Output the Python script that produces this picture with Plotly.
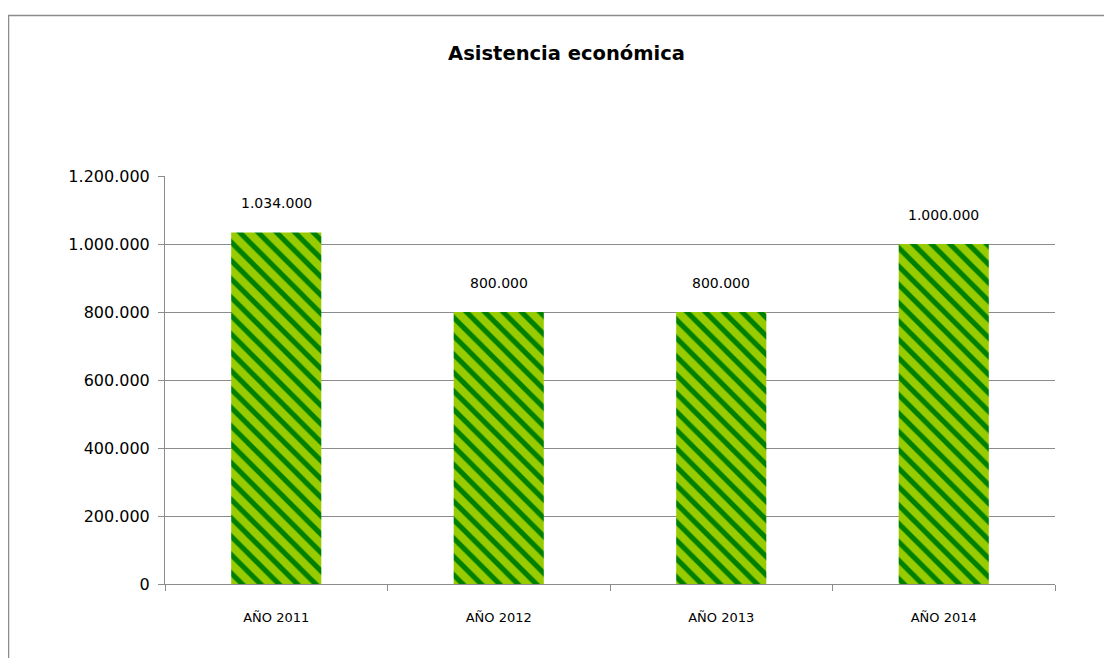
import plotly.graph_objects as go

categories = ["AÑO 2011", "AÑO 2012", "AÑO 2013", "AÑO 2014"]
values = [1034000, 800000, 800000, 1000000]
value_labels = ["1.034.000", "800.000", "800.000", "1.000.000"]
y_tickvals = [0, 200000, 400000, 600000, 800000, 1000000, 1200000]
y_ticktext = ["0", "200.000", "400.000", "600.000", "800.000", "1.000.000", "1.200.000"]

# figure sits inside the page's 8px body margin
W, H = 1096, 650
ml, mt = 157, 168
pr, pb = 1047, 576  # plot right / bottom in figure pixels
mr, mb = W - pr, H - pb
pw, ph = pr - ml, pb - mt

FONT = "DejaVu Sans, Verdana, sans-serif"

fig = go.Figure()
fig.add_trace(go.Bar(
    x=categories, y=values, width=0.405,
    marker=dict(
        color="#99CC00",
        line=dict(width=0),
        pattern=dict(shape="\\", fgcolor="#008000", bgcolor="#99CC00",
                     size=13, solidity=0.4, fillmode="replace"),
    ),
    hoverinfo="skip",
))

for c, v, t in zip(categories, values, value_labels):
    fig.add_annotation(x=c, y=v, text=t, showarrow=False, yshift=29,
                       font=dict(family=FONT, size=14, color="#000000"))

# outer chart-area border (top and left visible)
fig.add_shape(type="rect", xref="paper", yref="paper",
              x0=(0.5 - ml) / pw, x1=(W + 20 - ml) / pw,
              y0=(pb - (H + 20)) / ph, y1=(pb - 7.5) / ph,
              line=dict(color="#8c8c8c", width=1.5), fillcolor="rgba(0,0,0,0)", layer="below")

fig.update_layout(
    width=W, height=H,
    margin=dict(l=ml, r=mr, t=mt, b=mb),
    paper_bgcolor="white", plot_bgcolor="white",
    showlegend=False,
    title=dict(text="<b>Asistencia económica</b>", xref="container", x=558.5 / W, xanchor="center",
               yref="container", y=1 - 45 / H, yanchor="middle",
               font=dict(family=FONT, size=19.5, color="#000000")),
    xaxis=dict(
        type="category", showgrid=False, showline=True, linecolor="#8c8c8c", linewidth=1,
        ticks="outside", tickson="boundaries", ticklen=6, tickcolor="#8c8c8c",
        ticklabelstandoff=21,
        tickfont=dict(family=FONT, size=13, color="#000000"),
    ),
    yaxis=dict(
        range=[0, 1200000], tickvals=y_tickvals, ticktext=y_ticktext,
        showgrid=True, gridcolor="#8c8c8c", gridwidth=1,
        showline=True, linecolor="#8c8c8c", linewidth=1,
        ticks="outside", ticklen=6, tickcolor="#8c8c8c",
        ticklabelstandoff=5, zeroline=False,
        tickfont=dict(family=FONT, size=16, color="#000000"),
    ),
)

fig.write_html("out.html")
